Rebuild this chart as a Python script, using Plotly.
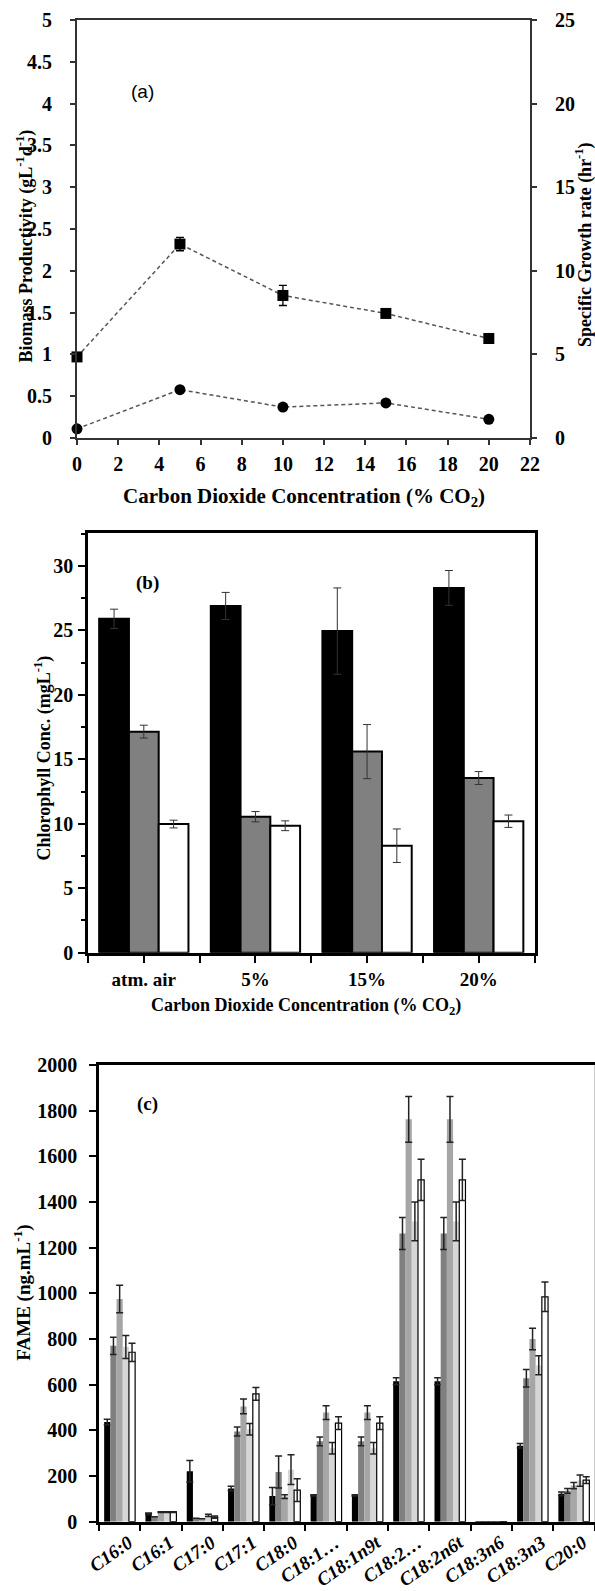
import plotly.graph_objects as go

W, H = 595, 1591
SERIF = "Liberation Serif"

# ---------------- data ----------------
# Panel (a)
co2_a = [0, 5, 10, 15, 20]
productivity = [0.97, 2.32, 1.705, 1.49, 1.19]
productivity_err = [0.02, 0.08, 0.12, 0.02, 0.02]
growth_rate = [0.55, 2.89, 1.85, 2.10, 1.12]
growth_err = [0.0, 0.0, 0.0, 0.0, 0.0]
a_x_ticks = [0, 2, 4, 6, 8, 10, 12, 14, 16, 18, 20, 22]
a_y_ticks = [0, 0.5, 1, 1.5, 2, 2.5, 3, 3.5, 4, 4.5, 5]
a_y2_ticks = [0, 5, 10, 15, 20, 25]

# Panel (b)
groups_b = ["atm. air", "5%", "15%", "20%"]
chl_black = [25.9, 26.9, 24.95, 28.3]
chl_black_err = [0.75, 1.05, 3.35, 1.35]
chl_gray = [17.15, 10.55, 15.6, 13.55]
chl_gray_err = [0.5, 0.4, 2.1, 0.5]
chl_white = [9.98, 9.85, 8.3, 10.2]
chl_white_err = [0.3, 0.38, 1.3, 0.48]
b_y_ticks = [0, 5, 10, 15, 20, 25, 30]

# Panel (c)
fames = ["C16:0", "C16:1", "C17:0", "C17:1", "C18:0", "C18:1\u2026", "C18:1n9t",
         "C18:2\u2026", "C18:2n6t", "C18:3n6", "C18:3n3", "C20:0"]
fame_s1 = [437, 35, 221, 145, 112, 115, 115, 615, 615, 0, 333, 122]
fame_s1_err = [12, 3, 47, 10, 38, 3, 3, 15, 15, 0, 10, 8]
fame_s2 = [770, 22, 15, 395, 218, 352, 352, 1262, 1262, 0, 628, 135]
fame_s2_err = [38, 0, 0, 20, 70, 19, 19, 70, 70, 0, 38, 10]
fame_s3 = [975, 42, 13, 505, 110, 478, 478, 1762, 1762, 0, 800, 158]
fame_s3_err = [60, 2, 0, 32, 8, 30, 30, 100, 100, 0, 47, 14]
fame_s4 = [765, 42, 28, 405, 228, 322, 322, 1315, 1315, 0, 685, 180]
fame_s4_err = [50, 2, 5, 25, 65, 25, 25, 85, 85, 0, 42, 25]
fame_s5 = [742, 42, 20, 560, 138, 432, 432, 1497, 1497, 0, 985, 182]
fame_s5_err = [40, 2, 5, 28, 50, 28, 28, 90, 90, 0, 65, 15]
c_y_ticks = [0, 200, 400, 600, 800, 1000, 1200, 1400, 1600, 1800, 2000]


def dom_x(a, b):
    return [a / W, b / W]


def dom_y(top, bottom):
    return [1 - bottom / H, 1 - top / H]


def btext(vals):
    return ["<b>%g</b>" % v for v in vals]


fig = go.Figure()

# ---------------- panel (a) ----------------
line_style = dict(color="#555555", width=1.5, dash="4px,3px")
fig.add_trace(go.Scatter(
    x=co2_a, y=productivity, mode="lines+markers", xaxis="x", yaxis="y",
    line=line_style, marker=dict(symbol="square", size=11, color="black"),
    error_y=dict(type="data", array=productivity_err, color="black", thickness=1.3, width=4),
    cliponaxis=False, showlegend=False))
fig.add_trace(go.Scatter(
    x=co2_a, y=growth_rate, mode="lines+markers", xaxis="x", yaxis="y2",
    line=line_style, marker=dict(symbol="circle", size=11, color="black"),
    error_y=dict(type="data", array=growth_err, color="black", thickness=1.3, width=4),
    cliponaxis=False, showlegend=False))

# ---------------- panel (b) ----------------
x_b = list(range(len(groups_b)))
wb = 0.8 / 3
for i, (vals, errs, col) in enumerate([(chl_black, chl_black_err, "black"),
                                        (chl_gray, chl_gray_err, "#808080"),
                                        (chl_white, chl_white_err, "white")]):
    fig.add_trace(go.Bar(
        x=x_b, y=vals, xaxis="x2", yaxis="y3", width=wb, offset=-0.4 + i * wb,
        marker=dict(color=col, line=dict(color="black", width=2)),
        error_y=dict(type="data", array=errs, color="#333333", thickness=1, width=4),
        showlegend=False))

# ---------------- panel (c) ----------------
wc = 0.15
series_c = [(fame_s1, fame_s1_err, "black", 0),
            (fame_s2, fame_s2_err, "#7f7f7f", 0),
            (fame_s3, fame_s3_err, "#a6a6a6", 0),
            (fame_s4, fame_s4_err, "#d6d6d6", 0),
            (fame_s5, fame_s5_err, "white", 1.2)]
for i, (vals, errs, col, lw) in enumerate(series_c):
    fig.add_trace(go.Bar(
        x=fames, y=vals, xaxis="x3", yaxis="y4", width=wc, offset=-0.375 + i * wc,
        marker=dict(color=col, line=dict(color="black", width=lw)),
        error_y=dict(type="data", array=errs, color="#222222", thickness=1.5, width=3.5),
        showlegend=False))

tf = lambda s: dict(family=SERIF, size=s, color="black", weight="bold")

fig.update_layout(
    width=W, height=H, margin=dict(l=0, r=0, t=0, b=0, autoexpand=False),
    paper_bgcolor="white", plot_bgcolor="white", barmode="overlay",
    showlegend=False,
    # panel a
    xaxis=dict(domain=dom_x(77, 530), anchor="y", range=[0, 22],
               tickmode="array", tickvals=a_x_ticks, ticktext=btext(a_x_ticks),
               showline=True, linecolor="#333333", linewidth=2, mirror=True,
               ticks="outside", ticklen=5, tickwidth=1.5, tickcolor="#333333",
               tickfont=tf(20), showgrid=False, zeroline=False, automargin=False,
               ticklabelstandoff=2),
    yaxis=dict(domain=dom_y(20, 438), anchor="x", range=[0, 5],
               tickmode="array", tickvals=a_y_ticks, ticktext=btext(a_y_ticks),
               showline=True, linecolor="#333333", linewidth=2,
               ticks="outside", ticklen=5, tickwidth=1.5, tickcolor="#333333",
               tickfont=tf(20), showgrid=False, zeroline=False, ticklabelstandoff=14,
               automargin=False),
    yaxis2=dict(overlaying="y", side="right", anchor="x", range=[0, 25],
                tickmode="array", tickvals=a_y2_ticks, ticktext=btext(a_y2_ticks),
                showline=True, linecolor="#333333", linewidth=2,
                ticks="outside", ticklen=5, tickwidth=1.5, tickcolor="#333333",
                tickfont=tf(20), showgrid=False, zeroline=False, ticklabelstandoff=14,
                automargin=False),
    # panel b
    xaxis2=dict(domain=dom_x(88, 534.5), anchor="y3", range=[-0.5, 3.5],
                tickmode="array", tickvals=x_b, ticktext=["<b>%s</b>" % g for g in groups_b],
                showline=True, linecolor="black", linewidth=2.5, mirror=True,
                ticks="outside", ticklen=8, tickwidth=2, tickcolor="black",
                minor=dict(dtick=0.5, tick0=-0.5, ticks="outside", ticklen=8, tickwidth=2,
                           tickcolor="black", showgrid=False),
                tickfont=tf(19), showgrid=False, zeroline=False, automargin=False),
    yaxis3=dict(domain=dom_y(533, 952.7), anchor="x2", range=[0, 32.56],
                tickmode="array", tickvals=b_y_ticks, ticktext=btext(b_y_ticks),
                showline=True, linecolor="black", linewidth=2.5, mirror=True,
                ticks="outside", ticklen=7, tickwidth=2, tickcolor="black",
                minor=dict(dtick=2.5, ticks="outside", ticklen=4, tickwidth=1.5,
                           tickcolor="black", showgrid=False),
                tickfont=tf(20), showgrid=False, zeroline=False, ticklabelstandoff=1,
                automargin=False),
    # panel c
    xaxis3=dict(domain=dom_x(99, 594.5), anchor="y4", type="category", range=[-0.5, 11.5],
                tickmode="array", tickvals=fames,
                ticktext=["<b><i>%s</i></b>" % f for f in fames],
                tickson="boundaries", showline=True, linecolor="black", linewidth=2.5,
                mirror=True, ticks="outside", ticklen=7, tickwidth=2, tickcolor="black",
                tickangle=-35, tickfont=tf(19), ticklabelshift=9, ticklabelstandoff=0,
                showgrid=False, zeroline=False, automargin=False),
    yaxis4=dict(domain=dom_y(1065, 1521.7), anchor="x3", range=[0, 2000],
                tickmode="array", tickvals=c_y_ticks, ticktext=btext(c_y_ticks),
                showline=True, linecolor="black", linewidth=2.5,
                ticks="outside", ticklen=7, tickwidth=2, tickcolor="black",
                tickfont=tf(20), showgrid=False, zeroline=False, ticklabelstandoff=8,
                automargin=False),
)

fig.add_shape(type="line", xref="x3 domain", yref="y4 domain", x0=1, x1=1, y0=0, y1=1,
              line=dict(color="#cccccc", width=1))

ann = []
# panel labels
ann.append(dict(text="(a)", x=3.16, y=4.14, xref="x", yref="y", showarrow=False,
                font=dict(family="Liberation Sans", size=19, color="black")))
ann.append(dict(text="<b>(b)</b>", x=0.03, y=28.66, xref="x2", yref="y3", showarrow=False,
                font=dict(family=SERIF, size=19, color="black")))
ann.append(dict(text="<b>(c)</b>", x=0.67, y=1829, xref="x3", yref="y4", showarrow=False,
                font=dict(family=SERIF, size=19, color="black")))


def title(text, xpx, ypx, size, angle=0):
    return dict(text=text, x=xpx / W, y=1 - ypx / H, xref="paper", yref="paper",
                xanchor="center", yanchor="middle", textangle=angle, showarrow=False,
                font=dict(family=SERIF, size=size, color="black"))


ann.append(title("<b>Biomass Productivity (gL<sup>-1</sup>d<sup>-1</sup>)</b>", 25.5, 246, 18, -90))
ann.append(title("<b>Specific Growth rate (hr<sup>-1</sup>)</b>", 584, 245, 18, -90))
ann.append(title("<b>Carbon Dioxide Concentration (% CO<sub>2</sub>)</b>", 303.5, 497, 21))
ann.append(title("<b>Chlorophyll Conc. (mgL<sup>-1</sup>)</b>", 43.5, 758, 18, -90))
ann.append(title("<b>Carbon Dioxide Concentration (% CO<sub>2</sub>)</b>", 306.5, 1006.7, 18))
ann.append(title("<b>FAME (ng.mL<sup>-1</sup>)</b>", 21.7, 1293, 19, -90))
fig.update_layout(annotations=ann)

fig.write_html("out.html")
